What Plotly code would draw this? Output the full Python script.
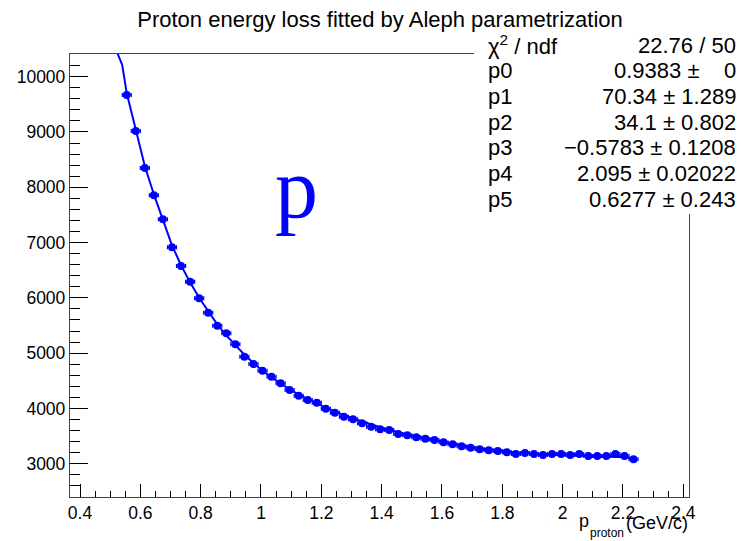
import plotly.graph_objects as go

# ---- data ----
p_proton = [0.555, 0.585, 0.615, 0.645, 0.675, 0.705, 0.735, 0.765, 0.795, 0.825,
            0.855, 0.885, 0.915, 0.945, 0.975, 1.005, 1.035, 1.065, 1.095, 1.125,
            1.155, 1.185, 1.215, 1.245, 1.275, 1.305, 1.335, 1.365, 1.395, 1.425,
            1.455, 1.485, 1.515, 1.545, 1.575, 1.605, 1.635, 1.665, 1.695, 1.725,
            1.755, 1.785, 1.815, 1.845, 1.875, 1.905, 1.935, 1.965, 1.995, 2.025,
            2.055, 2.085, 2.115, 2.145, 2.175, 2.205, 2.235]
dedx = [9669, 9018, 8349, 7855, 7422, 6915, 6576, 6292, 5992, 5732,
        5497, 5359, 5160, 4935, 4803, 4682, 4573, 4454, 4333, 4230,
        4152, 4103, 3995, 3922, 3850, 3803, 3731, 3669, 3622, 3609,
        3537, 3514, 3477, 3452, 3429, 3387, 3351, 3315, 3290, 3260,
        3242, 3230, 3206, 3175, 3194, 3175, 3157, 3175, 3175, 3157,
        3175, 3139, 3139, 3139, 3175, 3139, 3080]
bin_half_width = 0.015

fit_p = [0.520, 0.540, 0.555, 0.585, 0.615, 0.645, 0.675, 0.705, 0.735, 0.765,
         0.795, 0.825, 0.855, 0.885, 0.915, 0.945, 0.975, 1.005, 1.035, 1.065,
         1.095, 1.125, 1.155, 1.185, 1.215, 1.245, 1.275, 1.305, 1.335, 1.365,
         1.395, 1.425, 1.455, 1.485, 1.515, 1.545, 1.575, 1.605, 1.635, 1.665,
         1.695, 1.725, 1.755, 1.785, 1.815, 1.845, 1.875, 1.905, 1.935, 1.965,
         1.995, 2.025, 2.055, 2.085, 2.115, 2.145, 2.175, 2.205, 2.235]
fit_dedx = [10480, 10212, 9700, 9030, 8380, 7870, 7410, 6950, 6590, 6280,
            6000, 5750, 5520, 5320, 5140, 4970, 4820, 4680, 4560, 4450,
            4345, 4250, 4165, 4090, 4015, 3945, 3880, 3820, 3765, 3710,
            3660, 3615, 3570, 3530, 3495, 3460, 3425, 3395, 3365, 3335,
            3305, 3280, 3260, 3240, 3220, 3205, 3190, 3180, 3170, 3160,
            3155, 3150, 3145, 3140, 3135, 3130, 3125, 3115, 3100]

x_tickvals = [0.4, 0.6, 0.8, 1.0, 1.2, 1.4, 1.6, 1.8, 2.0, 2.2, 2.4]
x_ticktext = ["0.4", "0.6", "0.8", "1", "1.2", "1.4", "1.6", "1.8", "2", "2.2", "2.4"]
y_tickvals = [3000, 4000, 5000, 6000, 7000, 8000, 9000, 10000]
y_ticktext = ["3000", "4000", "5000", "6000", "7000", "8000", "9000", "10000"]

stat_labels = ["χ<sup>2</sup> / ndf", "p0", "p1", "p2", "p3", "p4", "p5"]
stat_values = ["22.76 / 50", "0.9383 ±\u00a0\u00a0\u00a0\u00a00", "70.34 ± 1.289",
               "34.1 ± 0.802", "\u22120.5783 ± 0.1208", "2.095 ± 0.02022",
               "0.6277 ± 0.243"]

title = "Proton energy loss fitted by Aleph parametrization"

# ---- layout geometry (pixels) ----
W, H = 739, 541
L, R, T, B = 70, 50, 54, 44
PW, PH = W - L - R, H - T - B
FONT = "Liberation Sans, Arial, Helvetica, sans-serif"
BLUE = "#0000ff"

fig = go.Figure()
fig.add_trace(go.Scatter(x=fit_p, y=fit_dedx, mode="lines",
                         line=dict(color=BLUE, width=2), hoverinfo="skip",
                         showlegend=False))
fig.add_trace(go.Scatter(x=p_proton, y=dedx, mode="markers",
                         marker=dict(color=BLUE, size=8, symbol="circle"),
                         error_x=dict(type="constant", value=bin_half_width,
                                      color=BLUE, thickness=1.2, width=2),
                         showlegend=False))


def fx(px):
    return (px - L) / PW


def fy(py):
    return (H - B - py) / PH


annotations = []
row_y0, row_dy = 45, 25.7
for i, (lab, val) in enumerate(zip(stat_labels, stat_values)):
    y = fy(row_y0 + i * row_dy)
    annotations.append(dict(text=lab, x=fx(486), y=y, xref="paper", yref="paper",
                            xanchor="left", yanchor="middle", showarrow=False,
                            font=dict(family=FONT, size=22, color="black")))
    annotations.append(dict(text=val, x=fx(738), y=y, xref="paper", yref="paper",
                            xanchor="right", yanchor="middle", showarrow=False,
                            font=dict(family=FONT, size=22, color="black")))

# big "p" label
annotations.append(dict(text="p", x=fx(296), y=fy(188), xref="paper", yref="paper",
                        xanchor="center", yanchor="middle", showarrow=False,
                        font=dict(family="Liberation Serif, Times New Roman, serif",
                                  size=86, color=BLUE)))
# x-axis title pieces
annotations.append(dict(text="p", x=fx(577), y=fy(521), xref="paper", yref="paper",
                        xanchor="left", yanchor="middle", showarrow=False,
                        font=dict(family=FONT, size=18, color="black")))
annotations.append(dict(text="proton", x=fx(588), y=fy(533), xref="paper", yref="paper",
                        xanchor="left", yanchor="middle", showarrow=False,
                        font=dict(family=FONT, size=12, color="black")))
annotations.append(dict(text="(GeV/c)", x=fx(690), y=fy(523), xref="paper", yref="paper",
                        xanchor="right", yanchor="middle", showarrow=False,
                        font=dict(family=FONT, size=18, color="black")))

shapes = [dict(type="rect", xref="paper", yref="paper", layer="above",
               x0=fx(474), x1=fx(745), y0=fy(214), y1=fy(31),
               fillcolor="white", line=dict(width=0))]

x_lo = 0.4 - 10 / 301.65
x_hi = 0.4 + 609 / 301.65
y_hi = 10000 + 22.7 / 0.055286
y_lo = 3000 - 33.3 / 0.055286

fig.update_layout(
    width=W, height=H,
    margin=dict(l=L, r=R, t=T, b=B),
    paper_bgcolor="white", plot_bgcolor="white",
    title=dict(text=title, x=380 / W, xanchor="center", y=1 - 19 / H, yanchor="middle",
               font=dict(family=FONT, size=22, color="black")),
    xaxis=dict(range=[x_lo, x_hi], tickmode="array",
               tickvals=x_tickvals, ticktext=x_ticktext,
               ticks="inside", ticklen=13, tickwidth=1, tickcolor="black",
               minor=dict(dtick=0.05, tick0=0.4, ticks="inside", ticklen=6,
                          tickcolor="black", tickwidth=1, showgrid=False),
               showline=True, linecolor="#444", linewidth=1.3, mirror=True,
               showgrid=False, zeroline=False,
               tickfont=dict(family=FONT, size=17.5, color="black")),
    yaxis=dict(range=[y_lo, y_hi], tickmode="array",
               tickvals=y_tickvals, ticktext=y_ticktext,
               ticks="inside", ticklen=18, tickwidth=1, tickcolor="black",
               minor=dict(dtick=200, tick0=0, ticks="inside", ticklen=10,
                          tickcolor="black", tickwidth=1, showgrid=False),
               showline=True, linecolor="#444", linewidth=1.3, mirror=True,
               showgrid=False, zeroline=False,
               tickfont=dict(family=FONT, size=17.5, color="black")),
    annotations=annotations,
    shapes=shapes,
)

fig.write_html("out.html")
